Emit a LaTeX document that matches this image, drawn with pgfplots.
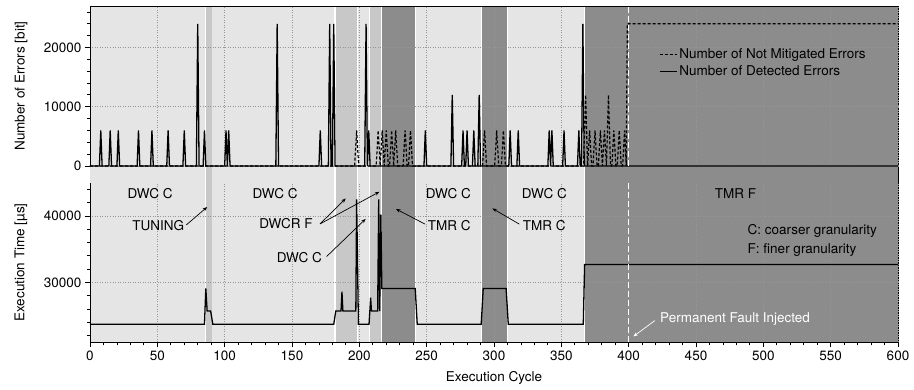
\documentclass[border=0pt]{standalone}
\usepackage{fontspec}
\setmainfont{TeX Gyre Heros}
\usepackage{pgfplots}
\pgfplotsset{compat=1.18}
\usetikzlibrary{arrows.meta}

\definecolor{bandlight}{RGB}{229,229,229}
\definecolor{bandmid}{RGB}{200,200,200}
\definecolor{banddark}{RGB}{140,140,140}
\definecolor{gridgray}{RGB}{150,150,150}

\newcommand{\fs}{\fontsize{13.5}{16}\selectfont}

\tikzset{ann/.style={-{Stealth[length=4.5pt,width=3.5pt]}, line width=0.7pt}}

\pgfplotsset{
  panel/.style={
    scale only axis, width=808pt, xmin=0, xmax=600,
    /pgf/number format/assume math mode=true,
    /pgf/number format/1000 sep={},
    scaled y ticks=false, tick align=outside,
    axis y line*=left,
    major tick length=5pt, minor tick length=3pt,
    tick label style={font=\fs}, label style={font=\fs},
    xtick={0,50,...,600}, minor x tick num=4,
    xmajorgrids, ymajorgrids,
    major grid style={gridgray, dash pattern=on 1pt off 1.5pt, line width=0.6pt},
    axis line style={line width=0.8pt},
    tick style={line width=0.8pt, black},
    every axis y label/.style={at={(axis description cs:0,0.5)},
      xshift=-69pt, rotate=90, anchor=center},
  },
}

\begin{document}
\begin{tikzpicture}[font=\fs]
\path[use as bounding box] (0,0) rectangle (914pt,389pt);

% operating-mode bands behind both panels
\begin{axis}[
  at={(90pt,46.7pt)}, anchor=south west, scale only axis,
  width=808pt, height=336.3pt,
  xmin=0, xmax=600, ymin=0, ymax=1,
  axis x line*=top, axis y line*=right,
  xtick=\empty, ytick=\empty,
  axis line style={line width=0.8pt},
  axis on top,
]
\addplot[fill=bandlight, draw=none] coordinates {(0,1)(600,1)} \closedcycle;
\addplot[fill=bandmid, draw=none] coordinates {(86,1)(90.5,1)} \closedcycle;
\addplot[fill=bandmid, draw=none] coordinates {(182,1)(198.5,1)} \closedcycle;
\addplot[fill=bandmid, draw=none] coordinates {(207.5,1)(216.5,1)} \closedcycle;
\addplot[fill=banddark, draw=none] coordinates {(216.5,1)(241.5,1)} \closedcycle;
\addplot[fill=banddark, draw=none] coordinates {(291,1)(310,1)} \closedcycle;
\addplot[fill=banddark, draw=none] coordinates {(367,1)(600,1)} \closedcycle;
% mode switches
\addplot[ycomb, white, line width=1.2pt, mark=none] coordinates {
  (86,1)(182,1)(198.5,1)(207.5,1)(216.5,1)(241.5,1)(291,1)(310,1)(367,1)};
\end{axis}

% upper panel: error counts
\begin{axis}[panel,
  at={(90pt,223pt)}, anchor=south west, height=160pt,
  ymin=0, ymax=27000,
  ytick={0,10000,20000}, minor ytick={2000,4000,...,26000},
  axis x line*=bottom, x axis line style={draw=none},
  xtick style={draw=none}, xticklabels={}, minor x tick num=0,
  clip=false,
  ylabel={Number of Errors [bit]},
  legend cell align=left,
  legend image code/.code={\draw[#1] (0pt,0pt) -- (17pt,0pt);},
  legend style={at={(0.704,0.745)}, anchor=north west, draw=none, fill=none,
    font=\fs, inner sep=0pt, row sep=1.5pt},
]
\addplot[black, line width=1.2pt, dash pattern=on 3pt off 2pt] coordinates {
  (0,0)(196.5,0)(198,6000)(199.5,0)
  (212.5,0)(214,6000)(215.5,0)(217,6000)(218.5,0)(220,6000)(221.5,0)
  (222.5,0)(224,6000)(225.5,0)(227,6000)(228.5,0)
  (232.5,0)(234,6000)(235.5,0)(236.5,0)(238,6000)(239.5,0)
  (291.5,0)(293,6000)(294.5,0)(300.5,0)(302,6000)(303.5,0)
  (305.5,0)(307,6000)(308.5,0)
  (366.5,0)(368,12000)(369.5,0)(371,6000)(372.5,0)(373.5,0)(375,6000)(376.5,0)
  (377.5,0)(379,6000)(380.5,0)(382,6000)(383.5,0)(385,12000)(386.5,0)
  (387.5,0)(389,6000)(390.5,0)(391.5,0)(393,6000)(394.5,0)
  (395.5,0)(397,6000)(398.2,0)(399,24000)(600,24000)};
\addlegendentry{Number of Not Mitigated Errors}
\addplot[black, line width=1.3pt] coordinates {
  (0,0)(7,0)(8,6000)(9,0)(14,0)(15,6000)(16,0)(20,0)(21,6000)(22,0)
  (35,0)(36,6000)(37,0)(45,0)(46,6000)(47,0)(57,0)(58,6000)(59,0)
  (69,0)(70,6000)(71,0)(79,0)(80,24000)(81,0)(84,0)(85,6000)(86,0)
  (100,0)(101,6000)(102,0)(103,6000)(104,0)(138,0)(139,24000)(140,0)
  (170,0)(171,6000)(172,0)(177,0)(178,24000)(179,0)(180,0)(181,24000)(182,0)
  (204,0)(205,24000)(206,0)(207,6000)(208,0)(248,0)(249,6000)(250,0)
  (268,0)(269,12000)(270,0)(276,0)(277,6000)(278,0)(279,0)(280,6000)(281,0)
  (284,0)(285,6000)(286,0)(288,0)(289,12000)(290,0)
  (311,0)(312,6000)(313,0)(317,0)(318,6000)(319,0)
  (340,0)(341,6000)(342,0)(343,6000)(344,0)(351,0)(352,6000)(353,0)
  (362,0)(363,6000)(364,0)(365,0)(366,24000)(367,0)(600,0)};
\addlegendentry{Number of Detected Errors}
\addplot[white, line width=1.3pt, dash pattern=on 6pt off 3pt, forget plot]
  coordinates {(400,0)(400,27000)};
\end{axis}

% lower panel: execution time
\begin{axis}[panel,
  at={(90pt,46.7pt)}, anchor=south west, height=159.6pt,
  ymin=21000, ymax=45000,
  ytick={30000,40000}, minor ytick={22000,24000,...,44000},
  axis x line*=bottom,
  xlabel={Execution Cycle},
  xlabel style={yshift=-4pt},
  ylabel={Execution Time [µs]},
]
\addplot[black, line width=1.3pt] coordinates {
  (0,23700)(85,23700)(86,29100)(87,25700)(89.6,25700)(91.2,23700)
  (181,23700)(182.5,25700)(186.4,25700)(187.1,28600)(187.8,25700)
  (197.4,25700)(198,42500)(199.3,23700)
  (207.2,23700)(207.8,25700)(208.4,27700)(209,25700)(213.6,25700)
  (214.4,42500)(215.1,25700)(216,40200)(216.7,29100)
  (241.5,29100)(243,23700)(290.5,23700)(292,29100)(309,29100)(310.6,23700)
  (366.3,23700)(367.3,32700)(600,32700)};
\addplot[white, line width=1.3pt, dash pattern=on 6pt off 3pt]
  coordinates {(400,21000)(400,45000)};

\node at (axis cs:44.6,43430) {DWC C};
\node at (axis cs:137.4,43430) {DWC C};
\node at (axis cs:266.1,43430) {DWC C};
\node at (axis cs:337.4,43430) {DWC C};
\node at (axis cs:479.4,43430) {TMR F};

\node at (axis cs:50.7,38550) {TUNING};
\draw[ann] (axis cs:71.5,38650) -- (axis cs:87,41340);

\node at (axis cs:145.5,38800) {DWCR F};
\draw[ann] (axis cs:170.8,38800) -- (axis cs:189.9,42630);
\draw[ann] (axis cs:170.8,38800) -- (axis cs:214.9,43630);

\node at (axis cs:155.4,33730) {DWC C};
\draw[ann] (axis cs:175.7,33900) -- (axis cs:204.7,39550);

\node at (axis cs:266.8,38500) {TMR C};
\draw[ann] (axis cs:248.8,38770) -- (axis cs:227.2,41045);

\node at (axis cs:337.4,38500) {TMR C};
\draw[ann] (axis cs:318.8,38770) -- (axis cs:298.8,41130);

\node[anchor=west] at (axis cs:485.8,37700) {C: coarser granularity};
\node[anchor=west] at (axis cs:485.8,34930) {F: finer granularity};

\node[anchor=west, white] at (axis cs:420.8,24480) {Permanent Fault Injected};
\draw[ann, white] (axis cs:419.5,24270) -- (axis cs:403.5,21880);
\end{axis}
\end{tikzpicture}
\end{document}
